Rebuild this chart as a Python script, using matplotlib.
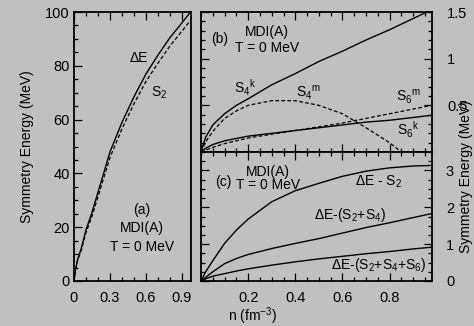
import matplotlib
matplotlib.use("Agg")
import matplotlib.pyplot as plt
from matplotlib.ticker import MultipleLocator, FixedLocator, FuncFormatter

plt.rcParams["font.family"] = ["Liberation Sans", "DejaVu Sans"]
plt.rcParams["mathtext.fontset"] = "custom"
plt.rcParams["mathtext.rm"] = "Liberation Sans"
plt.rcParams["mathtext.it"] = "Liberation Sans:italic"
plt.rcParams["mathtext.default"] = "regular"

BG = "#c0c0c0"

# panel (a): symmetry energy vs density
n_a = [0, 0.01, 0.03, 0.06, 0.1, 0.15, 0.2, 0.3, 0.4, 0.5, 0.6, 0.7, 0.8, 0.9, 0.98]
dE = [0, 3.5, 8, 12, 19, 25.5, 33, 48, 59, 68.5, 77, 84, 90.5, 96, 100.5]
S2 = [0, 3.4, 7.6, 11.4, 18.0, 24.1, 31.3, 45.9, 56.6, 65.9, 74.2, 81.0, 87.4, 92.9, 97.4]

# panel (b): higher order terms
n_b = [0, 0.02, 0.05, 0.1, 0.15, 0.2, 0.3, 0.4, 0.5, 0.6, 0.7, 0.8, 0.9, 1.0]
S4k = [0, 0.16, 0.29, 0.41, 0.50, 0.57, 0.72, 0.84, 0.97, 1.08, 1.20, 1.31, 1.43, 1.55]
S4m = [0, 0.11, 0.22, 0.36, 0.44, 0.50, 0.55, 0.55, 0.50, 0.41, 0.26, 0.10, -0.10, -0.35]
S6k = [0, 0.04, 0.08, 0.12, 0.145, 0.17, 0.20, 0.23, 0.26, 0.29, 0.32, 0.34, 0.37, 0.40]
S6m = [0, 0.02, 0.05, 0.09, 0.12, 0.15, 0.19, 0.23, 0.27, 0.31, 0.36, 0.41, 0.46, 0.51]

# panel (c): residuals
n_c = [0, 0.02, 0.05, 0.1, 0.15, 0.2, 0.3, 0.4, 0.5, 0.6, 0.7, 0.8, 0.9, 1.0]
res2 = [0, 0.25, 0.55, 1.02, 1.38, 1.68, 2.15, 2.45, 2.65, 2.84, 2.98, 3.07, 3.12, 3.14]
res4 = [0, 0.10, 0.25, 0.47, 0.61, 0.72, 0.88, 1.02, 1.15, 1.30, 1.45, 1.58, 1.72, 1.86]
res6 = [0, 0.06, 0.13, 0.20, 0.27, 0.33, 0.43, 0.52, 0.60, 0.67, 0.74, 0.80, 0.87, 0.93]

W, H = 474, 326
fig = plt.figure(figsize=(W / 100, H / 100), dpi=100, facecolor=BG)


def px_axes(l, t, r, b):
    return fig.add_axes([l / W, 1 - b / H, (r - l) / W, (b - t) / H], facecolor=BG)


ax_a = px_axes(74, 12, 191, 281)
ax_b = px_axes(201, 12, 432, 152)
ax_c = px_axes(201, 152, 432, 281)

for ax in (ax_a, ax_b, ax_c):
    for s in ax.spines.values():
        s.set_linewidth(1.3)
    ax.tick_params(which="both", direction="in", labelsize=10.5, width=0.9)
    ax.tick_params(which="major", length=6)
    ax.tick_params(which="minor", length=3)

lw = 1.0
dash = (0, (3, 1.8))

# (a)
ax_a.plot(n_a, dE, color="black", lw=lw)
ax_a.plot(n_a, S2, color="black", lw=0.9, linestyle=dash)
ax_a.set_xlim(0, 0.975)
ax_a.set_ylim(0, 100)
ax_a.xaxis.set_major_locator(FixedLocator([0, 0.3, 0.6, 0.9]))
ax_a.xaxis.set_minor_locator(MultipleLocator(0.1))
ax_a.yaxis.set_major_locator(MultipleLocator(20))
ax_a.yaxis.set_minor_locator(MultipleLocator(5))
ax_a.xaxis.set_major_formatter(FuncFormatter(lambda v, p: "0" if v == 0 else f"{v:.1f}"))
ax_a.tick_params(which="both", top=True, right=False)
ax_a.tick_params(axis="x", pad=7)
ax_a.tick_params(axis="y", pad=3)
ax_a.set_ylabel("Symmetry Energy (MeV)", fontsize=10, labelpad=8)
ax_a.text(0.536, 82.8, "ΔE", fontsize=10, ha="center", va="center")
ax_a.text(0.71, 69.8, "S$_2$", fontsize=10, ha="center", va="center")
ax_a.text(0.564, 26.4, "(a)", fontsize=10, ha="center", va="center")
ax_a.text(0.564, 19.6, "MDI(A)", fontsize=10, ha="center", va="center")
ax_a.text(0.564, 12.8, "T = 0 MeV", fontsize=10, ha="center", va="center")

# (b)
ax_b.plot(n_b, S4k, color="black", lw=lw)
ax_b.plot(n_b, S4m, color="black", lw=0.9, linestyle=dash)
ax_b.plot(n_b, S6k, color="black", lw=lw)
ax_b.plot(n_b, S6m, color="black", lw=0.9, linestyle=dash)
ax_b.set_xlim(0, 0.98)
ax_b.set_ylim(0, 1.5)
ax_b.xaxis.set_major_locator(FixedLocator([0.2, 0.4, 0.6, 0.8]))
ax_b.xaxis.set_minor_locator(MultipleLocator(0.05))
ax_b.yaxis.set_major_locator(FixedLocator([0.5, 1.0, 1.5]))
ax_b.yaxis.set_minor_locator(MultipleLocator(0.1))
ax_b.yaxis.set_major_formatter(FuncFormatter(lambda v, p: f"{v:g}"))
ax_b.tick_params(which="both", top=True, right=True, labelleft=False,
                 labelright=True, labelbottom=False)
ax_b.tick_params(axis="y", pad=11)
ax_b.text(0.082, 0.81, "(b)", transform=ax_b.transAxes, fontsize=10, ha="center", va="center")
ax_b.text(0.284, 0.86, "MDI(A)", transform=ax_b.transAxes, fontsize=10, ha="center", va="center")
ax_b.text(0.284, 0.74, "T = 0 MeV", transform=ax_b.transAxes, fontsize=10, ha="center", va="center")
ax_b.text(0.19, 0.455, r"S$_4{}^{\mathrm{k}}$", transform=ax_b.transAxes, fontsize=10, ha="center", va="center")
ax_b.text(0.465, 0.42, r"S$_4{}^{\mathrm{m}}$", transform=ax_b.transAxes, fontsize=10, ha="center", va="center")
ax_b.text(0.897, 0.395, r"S$_6{}^{\mathrm{m}}$", transform=ax_b.transAxes, fontsize=10, ha="center", va="center")
ax_b.text(0.897, 0.157, r"S$_6{}^{\mathrm{k}}$", transform=ax_b.transAxes, fontsize=10, ha="center", va="center")

# (c)
ax_c.plot(n_c, res2, color="black", lw=lw)
ax_c.plot(n_c, res4, color="black", lw=lw)
ax_c.plot(n_c, res6, color="black", lw=lw)
ax_c.set_xlim(0, 0.98)
ax_c.set_ylim(0, 3.5)
ax_c.xaxis.set_major_locator(FixedLocator([0.2, 0.4, 0.6, 0.8]))
ax_c.xaxis.set_minor_locator(MultipleLocator(0.05))
ax_c.yaxis.set_major_locator(MultipleLocator(1))
ax_c.yaxis.set_minor_locator(MultipleLocator(0.25))
ax_c.tick_params(which="both", top=True, right=True, labelleft=False, labelright=True)
ax_c.tick_params(axis="y", pad=10)
ax_c.tick_params(axis="x", pad=7)
ax_c.text(0.097, 0.77, "(c)", transform=ax_c.transAxes, fontsize=10, ha="center", va="center")
ax_c.text(0.29, 0.847, "MDI(A)", transform=ax_c.transAxes, fontsize=10, ha="center", va="center")
ax_c.text(0.29, 0.744, "T = 0 MeV", transform=ax_c.transAxes, fontsize=10, ha="center", va="center")
ax_c.text(0.768, 0.77, "ΔE - S$_2$", transform=ax_c.transAxes, fontsize=10, ha="center", va="center")
ax_c.text(0.645, 0.512, "ΔE-(S$_2$+S$_4$)", transform=ax_c.transAxes, fontsize=10, ha="center", va="center")
ax_c.text(0.768, 0.124, "ΔE-(S$_2$+S$_4$+S$_6$)", transform=ax_c.transAxes, fontsize=10, ha="center", va="center")

fig.text(252 / W, 1 - 316 / H, "n (fm$^{-3}$)", fontsize=10, ha="center", va="center")
fig.text(466 / W, 1 - 177 / H, "Symmetry Energy (MeV)", fontsize=10, rotation=90,
         ha="center", va="center")

fig.savefig("out.png", dpi=100, facecolor=BG)
